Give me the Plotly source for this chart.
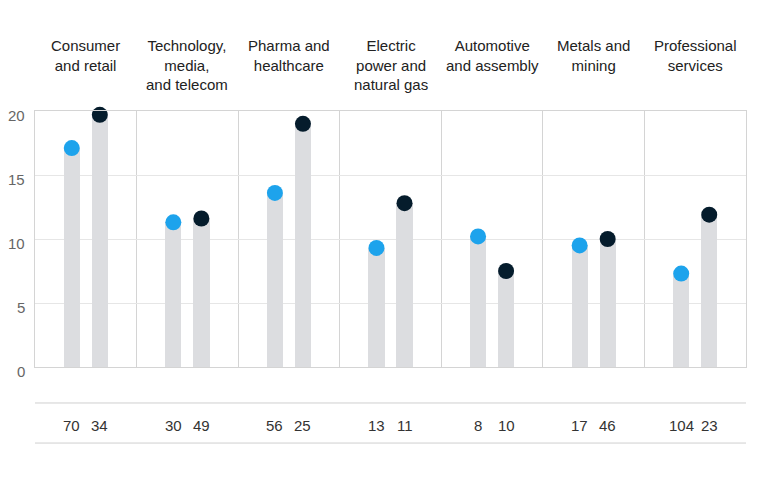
import plotly.graph_objects as go

categories = [
    "Consumer<br>and retail",
    "Technology,<br>media,<br>and telecom",
    "Pharma and<br>healthcare",
    "Electric<br>power and<br>natural gas",
    "Automotive<br>and assembly",
    "Metals and<br>mining",
    "Professional<br>services",
]
blue_values = [17.1, 11.3, 13.6, 9.3, 10.2, 9.5, 7.3]
dark_values = [19.7, 11.6, 19.0, 12.8, 7.5, 10.0, 11.9]
blue_counts = [70, 30, 56, 13, 8, 17, 104]
dark_counts = [34, 49, 25, 11, 10, 46, 23]
y_ticks = [0, 5, 10, 15, 20]

BLUE = "#1DA3EC"
DARK = "#051C2C"
BAR = "#DCDDE0"
GRID = "#E6E6E6"
DIV = "#D4D4D4"
FONT = "Liberation Sans, Arial, sans-serif"

off = 0.138
n = len(categories)
xb = [i - off for i in range(n)]
xd = [i + off for i in range(n)]

fig = go.Figure()
fig.add_trace(go.Bar(x=xb + xd, y=blue_values + dark_values, width=0.16,
                     marker=dict(color=BAR, line=dict(width=0)), hoverinfo="skip"))
fig.add_trace(go.Scatter(x=xb, y=blue_values, mode="markers", cliponaxis=False,
                         marker=dict(color=BLUE, size=16, line=dict(width=0))))
fig.add_trace(go.Scatter(x=xd, y=dark_values, mode="markers", cliponaxis=False,
                         marker=dict(color=DARK, size=16, line=dict(width=0))))

for i, c in enumerate(categories):
    fig.add_annotation(x=i, y=1.297, xref="x", yref="paper", text=c, showarrow=False,
                       xanchor="center", yanchor="top", align="center",
                       font=dict(family=FONT, size=15, color="#222222"))
for i in range(n):
    for xx, t in ((xb[i], blue_counts[i]), (xd[i], dark_counts[i])):
        fig.add_annotation(x=xx, y=-0.2266, xref="x", yref="paper", text=str(t),
                           showarrow=False, xanchor="center", yanchor="middle",
                           font=dict(family=FONT, size=15, color="#333333"))
for t in y_ticks:
    fig.add_annotation(x=0, y=t, xref="paper", yref="y", text=str(t), showarrow=False,
                       xanchor="right", yanchor="middle", xshift=-8, yshift=-4,
                       font=dict(family=FONT, size=15, color="#666666"))

for yy in (-0.1406, -0.297):
    fig.add_shape(type="line", xref="paper", yref="paper", x0=0, x1=1, y0=yy, y1=yy,
                  line=dict(color="#CFCFCF", width=1))

fig.update_layout(
    width=759, height=472, margin=dict(l=27, r=21, t=103, b=113),
    paper_bgcolor="white", plot_bgcolor="white", showlegend=False, bargap=0,
    font=dict(family=FONT),
)
fig.update_xaxes(range=[-0.5, n - 0.5], tickvals=[i - 0.5 for i in range(n + 1)],
                 showticklabels=False, showgrid=True, gridcolor=DIV, gridwidth=1,
                 zeroline=False, showline=True, mirror=True, linecolor=DIV, ticks="",
                 automargin=False)
fig.update_yaxes(range=[0, 20], tickvals=y_ticks, showgrid=True, gridcolor=GRID,
                 zeroline=False, showline=True, mirror=True, linecolor=DIV,
                 showticklabels=False, automargin=False)

fig.write_html("out.html")
